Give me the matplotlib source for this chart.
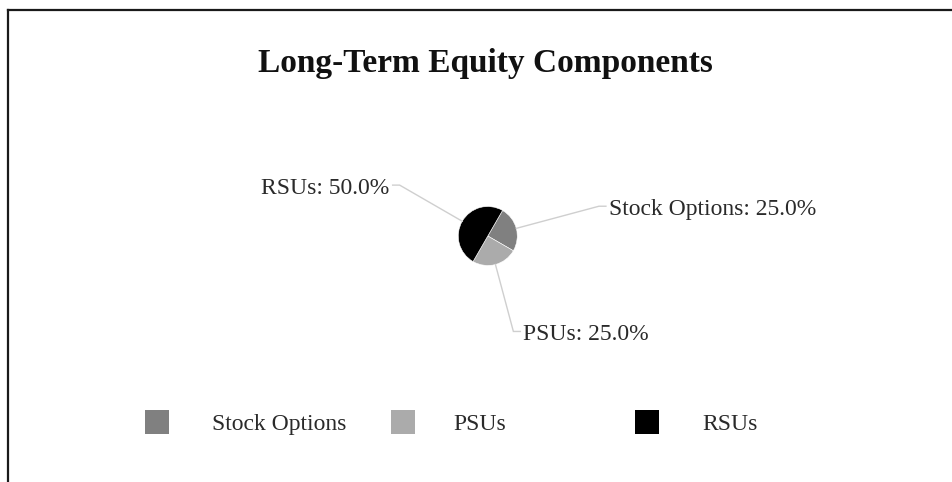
import matplotlib
matplotlib.use("Agg")
import matplotlib.pyplot as plt
import numpy as np
from matplotlib.patches import Rectangle

# ---- data ----
title = "Long-Term Equity Components"
categories = ["Stock Options", "PSUs", "RSUs"]
values = [25, 25, 50]
colors = ["#808080", "#ababab", "#000000"]

# ---- layout / style ----
W, H = 953, 482
FONT = ["Liberation Serif", "DejaVu Serif"]
leader_reach = [3.9, 3.35, 3.45]   # radial length of the first leader segment, in radii
legend_box_x = [145, 391, 635]
legend_text_x = [212, 453, 702]

fig = plt.figure(figsize=(W / 100, H / 100), dpi=100)
ax = fig.add_axes([0, 0, 1, 1])

cx, cy, r = 487.8, H - 236, 29.5
wedges, _ = ax.pie(values, colors=colors, startangle=60, counterclock=False,
                   center=(cx, cy), radius=r,
                   wedgeprops=dict(edgecolor="white", linewidth=0.4))
ax.set_xlim(0, W)
ax.set_ylim(0, H)
ax.set_aspect("equal")
ax.axis("off")

total = sum(values)
for w, cat, v, reach in zip(wedges, categories, values, leader_reach):
    mid = np.deg2rad((w.theta1 + w.theta2) / 2)
    ux, uy = np.cos(mid), np.sin(mid)
    p0 = (cx + r * ux, cy + r * uy)
    p1 = (cx + reach * r * ux, cy + reach * r * uy)
    side = 1 if ux >= 0 else -1
    p2 = (p1[0] + side * 7, p1[1])
    ax.plot([p0[0], p1[0], p2[0]], [p0[1], p1[1], p2[1]], color="#cfcfcf", lw=1.0,
            solid_joinstyle="miter")
    ax.text(p2[0] + side * 3, p1[1] - 9, f"{cat}: {v / total * 100:.1f}%",
            ha="left" if side > 0 else "right", va="baseline",
            fontsize=17, family=FONT, color="#2a2a2a")

# title
ax.text(485, H - 72, title, ha="center", va="baseline", fontsize=24,
        fontweight="bold", family=FONT, color="#111111")

# legend
for bx, tx, cat, col in zip(legend_box_x, legend_text_x, categories, colors):
    ax.add_patch(Rectangle((bx, H - 434), 24, 24, facecolor=col, edgecolor="none"))
    ax.text(tx, H - 430, cat, ha="left", va="baseline", fontsize=17,
            family=FONT, color="#2a2a2a")

# frame lines (top and left)
ax.plot([8, W], [H - 10, H - 10], color="#1a1a1a", lw=1.6, solid_capstyle="projecting")
ax.plot([8, 8], [H - 10, 0], color="#1a1a1a", lw=1.6, solid_capstyle="projecting")

fig.savefig("out.png", dpi=100, facecolor="white")
